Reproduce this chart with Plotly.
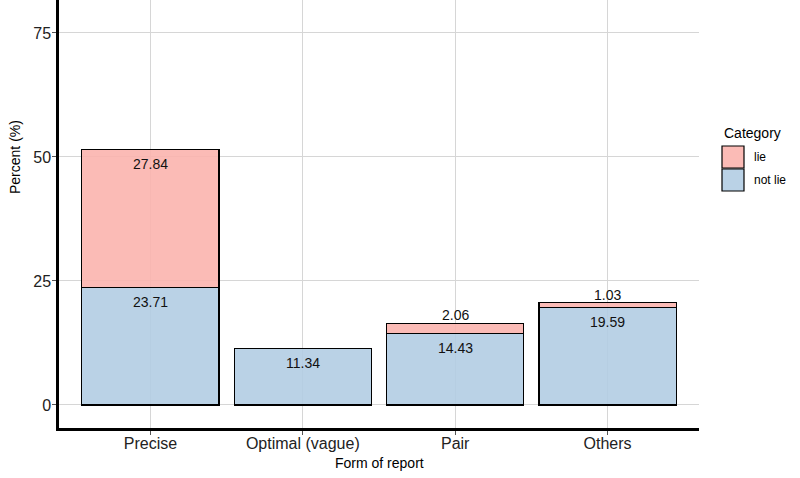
import plotly.graph_objects as go

categories = ["Precise", "Optimal (vague)", "Pair", "Others"]
not_lie = [23.71, 11.34, 14.43, 19.59]
lie = [27.84, None, 2.06, 1.03]
series_names = ["lie", "not lie"]
y_ticks = [0, 25, 50, 75]

COL_LIE = "rgba(251,180,174,0.9)"
COL_NOT = "rgba(179,205,227,0.9)"
FONT = "Liberation Sans, Arial, sans-serif"

W, H = 800, 478
L, R, T, B = 59, 101, 0, 50
PW, PH = W - L - R, H - T - B


def px(x):
    return (x - L) / PW


def py(y):
    return (H - B - y) / PH


fig = go.Figure()
fig.add_trace(go.Bar(x=categories, y=not_lie, name="not lie", width=0.9,
                     marker=dict(color=COL_NOT, line=dict(color="black", width=1.2)),
                     showlegend=False))
fig.add_trace(go.Bar(x=categories, y=lie, name="lie", width=0.9,
                     marker=dict(color=COL_LIE, line=dict(color="black", width=1.2)),
                     showlegend=False))

annotations = []
for c, nl, l in zip(categories, not_lie, lie):
    annotations.append(dict(x=c, y=nl, xref="x", yref="y", text=f"{nl:.2f}",
                            showarrow=False, yanchor="middle", yshift=-14.5,
                            font=dict(size=14, color="#111", family=FONT)))
    if l is not None:
        top = nl + l
        if l >= 5:
            annotations.append(dict(x=c, y=top, xref="x", yref="y", text=f"{l:.2f}",
                                    showarrow=False, yanchor="middle", yshift=-14.5,
                                    font=dict(size=14, color="#111", family=FONT)))
        else:
            annotations.append(dict(x=c, y=top, xref="x", yref="y", text=f"{l:.2f}",
                                    showarrow=False, yanchor="middle", yshift=8,
                                    font=dict(size=14, color="#111", family=FONT)))

# axis titles
annotations.append(dict(x=px(15), y=py(157), xref="paper", yref="paper", text="Percent (%)",
                        showarrow=False, textangle=-90, xanchor="center", yanchor="middle",
                        font=dict(size=14, color="black", family=FONT)))
annotations.append(dict(x=px(379), y=py(463), xref="paper", yref="paper", text="Form of report",
                        showarrow=False, xanchor="center", yanchor="middle",
                        font=dict(size=14, color="black", family=FONT)))

# legend (manual)
annotations.append(dict(x=px(722), y=py(133), xref="paper", yref="paper", text="Category",
                        showarrow=False, xanchor="left", yanchor="middle",
                        font=dict(size=14, color="black", family=FONT)))
shapes = []
leg_cols = {"lie": COL_LIE, "not lie": COL_NOT}
for i, nm in enumerate(series_names):
    y0 = 146 + i * 23
    shapes.append(dict(type="rect", xref="paper", yref="paper",
                       x0=px(722), x1=px(744), y0=py(y0), y1=py(y0 + 22),
                       fillcolor=leg_cols[nm], line=dict(color="black", width=1.2)))
    annotations.append(dict(x=px(752), y=py(y0 + 11), xref="paper", yref="paper", text=nm,
                            showarrow=False, xanchor="left", yanchor="middle",
                            font=dict(size=12, color="black", family=FONT)))

fig.update_layout(
    width=W, height=H,
    margin=dict(l=L, r=R, t=T, b=B),
    barmode="stack",
    bargap=0.1,
    plot_bgcolor="white", paper_bgcolor="white",
    font=dict(family=FONT, color="#222"),
    annotations=annotations,
    shapes=shapes,
    showlegend=False,
)
fig.update_xaxes(range=[-0.6, 3.6], showgrid=True, gridcolor="#D6D6D6", gridwidth=1,
                 showline=True, linecolor="black", linewidth=2.5,
                 ticks="outside", ticklen=4, tickcolor="#555", tickwidth=1,
                 ticklabelstandoff=-5,
                 tickfont=dict(size=16, color="#222", family=FONT), zeroline=False)
fig.update_yaxes(range=[-4.64, 81.65], tickvals=y_ticks, showgrid=True, gridcolor="#D6D6D6",
                 gridwidth=1, showline=True, linecolor="black", linewidth=2.5,
                 ticks="outside", ticklen=4, tickcolor="#555", tickwidth=1,
                 ticklabelstandoff=-2,
                 tickfont=dict(size=16, color="#222", family=FONT), zeroline=False)

fig.write_html("out.html", config={"displayModeBar": False},
               post_script="document.body.style.margin='0';document.body.style.overflow='hidden';")
